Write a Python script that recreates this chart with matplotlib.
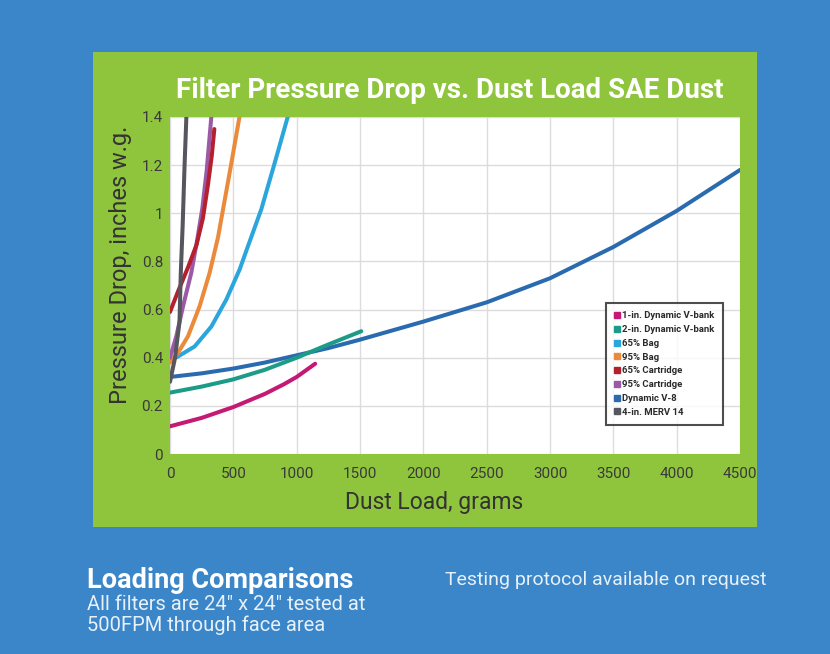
import matplotlib
matplotlib.use("Agg")
import matplotlib.pyplot as plt
from matplotlib.patches import Rectangle
from matplotlib.lines import Line2D
from matplotlib import font_manager

names = {f.name for f in font_manager.fontManager.ttflist}
NARROW = 'Liberation Sans Narrow' if 'Liberation Sans Narrow' in names else 'Roboto'

# ---- data ----
labels = ["1-in. Dynamic V-bank", "2-in. Dynamic V-bank", "65% Bag", "95% Bag",
          "65% Cartridge", "95% Cartridge", "Dynamic V-8", "4-in. MERV 14"]
colors = ["#c41a74", "#1c9c88", "#2ba6dd", "#ea8a3a", "#b5202e", "#9b5aa6", "#2a6bb0", "#55565e"]

v1_x = [0, 250, 500, 750, 900, 1000, 1146]
v1_y = [0.115, 0.15, 0.195, 0.25, 0.29, 0.32, 0.375]
v2_x = [0, 250, 500, 750, 1000, 1250, 1510]
v2_y = [0.255, 0.28, 0.31, 0.35, 0.40, 0.455, 0.51]
bag65_x = [0, 63, 195, 327, 445, 550, 616, 721, 827, 932]
bag65_y = [0.39, 0.405, 0.447, 0.53, 0.642, 0.767, 0.864, 1.017, 1.21, 1.405]
bag95_x = [0, 63, 142, 234, 313, 379, 419, 485, 550]
bag95_y = [0.38, 0.42, 0.489, 0.614, 0.753, 0.90, 1.017, 1.21, 1.405]
cart65_x = [0, 63, 142, 210, 260, 300, 330, 350]
cart65_y = [0.59, 0.675, 0.775, 0.87, 0.98, 1.12, 1.24, 1.35]
cart95_x = [0, 50, 103, 168, 215, 255, 290, 327]
cart95_y = [0.40, 0.489, 0.614, 0.753, 0.89, 1.02, 1.18, 1.405]
v8_x = [0, 250, 500, 750, 1000, 1250, 1500, 2000, 2500, 3000, 3500, 4000, 4500]
v8_y = [0.32, 0.335, 0.355, 0.38, 0.41, 0.44, 0.475, 0.55, 0.63, 0.73, 0.86, 1.01, 1.18]
merv_x = [0, 40, 75, 85, 100, 115, 130]
merv_y = [0.30, 0.40, 0.55, 0.75, 0.95, 1.2, 1.41]

series_x = [v1_x, v2_x, bag65_x, bag95_x, cart65_x, cart95_x, v8_x, merv_x]
series_y = [v1_y, v2_y, bag65_y, bag95_y, cart65_y, cart95_y, v8_y, merv_y]

x_ticks = [0, 500, 1000, 1500, 2000, 2500, 3000, 3500, 4000, 4500]
y_ticks = [0, 0.2, 0.4, 0.6, 0.8, 1.0, 1.2, 1.4]
y_ticklabels = ["0", "0.2", "0.4", "0.6", "0.8", "1", "1.2", "1.4"]

W, H = 830, 654
fig = plt.figure(figsize=(W / 100, H / 100), dpi=100)
fig.patch.set_facecolor("#3a86c9")

# green panel
fig.add_artist(Rectangle((93 / W, 1 - 527 / H), (757 - 93) / W, (527 - 52) / H,
                         transform=fig.transFigure, facecolor="#8fc53c", edgecolor="none", zorder=0))

ax = fig.add_axes([170 / W, 1 - 454 / H, 570 / W, 337 / H])
ax.set_facecolor("white")
ax.set_xlim(0, 4500)
ax.set_ylim(0, 1.4)

order = [6, 1, 0, 2, 3, 5, 4, 7]
for i in order:
    ax.plot(series_x[i], series_y[i], color=colors[i], lw=2.9, solid_capstyle="round",
            solid_joinstyle="round", zorder=3, clip_on=True)

ax.set_xticks(x_ticks)
ax.set_xticklabels([str(t) for t in x_ticks])
ax.set_yticks(y_ticks)
ax.set_yticklabels(y_ticklabels)
ax.grid(True, color="#dcdcdc", lw=1.0)
ax.set_axisbelow(True)
for s in ax.spines.values():
    s.set_visible(False)
ax.tick_params(length=0, colors="#3a3a3a", labelsize=11)
ax.tick_params(axis="x", pad=9)
ax.tick_params(axis="y", pad=5)
for lab in ax.get_xticklabels() + ax.get_yticklabels():
    lab.set_family(NARROW)
    lab.set_color("#3a3a3a")

ax.set_xlabel("Dust Load, grams", family=NARROW, fontsize=16.5, color="#333333")
ax.set_ylabel("Pressure Drop, inches w.g.", family=NARROW, fontsize=17, color="#333333")
ax.xaxis.set_label_coords((434 - 170) / 570, (454 - 503) / 337)
ax.yaxis.set_label_coords((120 - 170) / 570, (454 - 265) / 337)
ax.xaxis.label.set_va("center")
ax.yaxis.label.set_va("center")

fig.text(450 / W, 1 - 90 / H, "Filter Pressure Drop vs. Dust Load SAE Dust", family=NARROW,
         fontweight="bold", fontsize=20, color="white", ha="center", va="center")

handles = [Line2D([], [], marker="s", ls="", color=c, markersize=4.5) for c in colors]
leg = ax.legend(handles, labels, loc="upper left", bbox_to_anchor=((606 - 170) / 570, (454 - 303) / 337),
                prop={"family": NARROW, "size": 6.8, "weight": "bold"}, frameon=True, fancybox=False,
                handlelength=0.5, handletextpad=0.3, labelspacing=0.5, borderpad=0.9, borderaxespad=0)
leg.get_frame().set_edgecolor("#222222")
leg.get_frame().set_linewidth(1.5)
for t in leg.get_texts():
    t.set_color("#2a2a2a")

fig.text(87 / W, 1 - 580 / H, "Loading Comparisons", family=NARROW, fontweight="bold",
         fontsize=19.5, color="white", ha="left", va="center")
fig.text(87 / W, 1 - 605 / H, "All filters are 24\u2033 x 24\u2033 tested at", family=NARROW,
         fontsize=14.5, color="#e8f0f8", ha="left", va="center")
fig.text(87 / W, 1 - 625 / H, "500FPM through face area", family=NARROW,
         fontsize=14.5, color="#e8f0f8", ha="left", va="center")
fig.text(445 / W, 1 - 580 / H, "Testing protocol available on request", family=NARROW,
         fontsize=14, color="#e8f0f8", ha="left", va="center")

fig.savefig("out.png", dpi=100, facecolor=fig.get_facecolor())
